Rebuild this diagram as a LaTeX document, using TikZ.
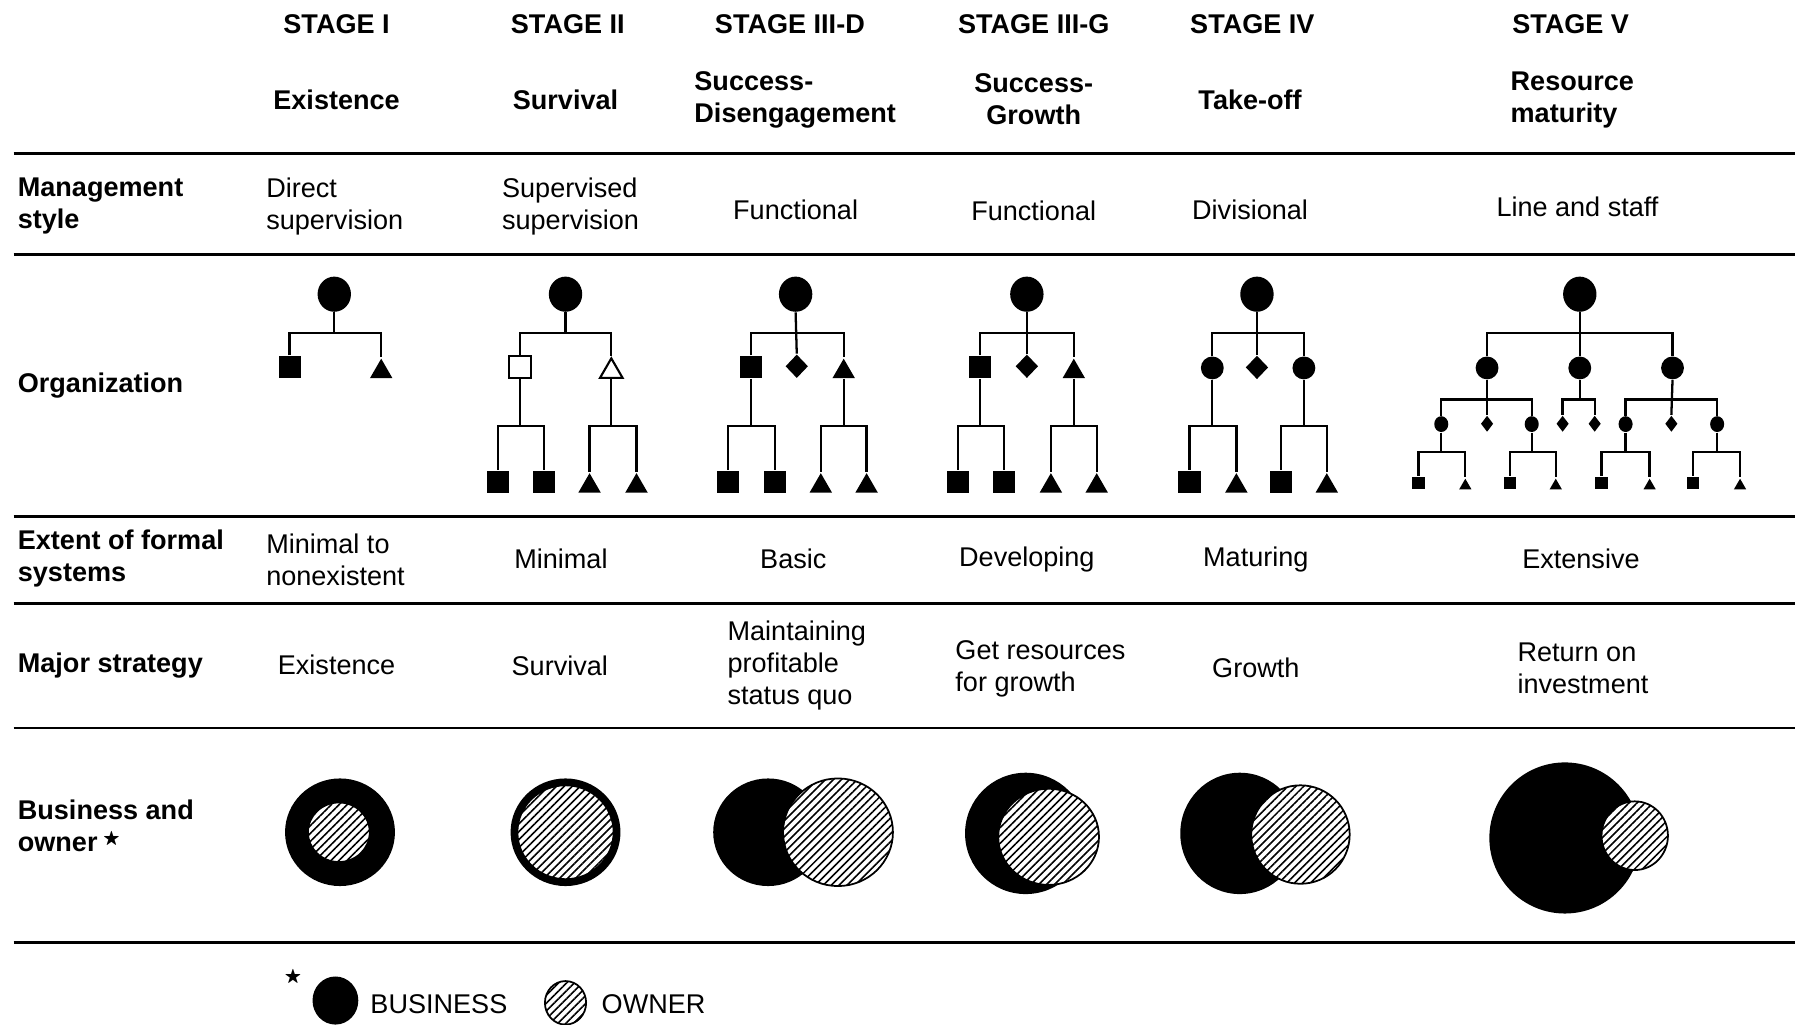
\documentclass[tikz,border=0pt]{standalone}
\usepackage{amssymb}
\usepackage{fontspec}
\setmainfont{Liberation Sans}
\usepackage{tikz}
\usetikzlibrary{shapes.geometric}
\usetikzlibrary{patterns.meta}

\newcommand{\tabfont}{\fontsize{7.7}{9.1}\selectfont}
\newcommand{\footstar}{\raisebox{0.55ex}{\fontsize{5}{5}\selectfont$\bigstar$}}
\newcommand{\orgstem}[2]{\draw[orgline] (#1.south) -- (#1.south |- 0,#2);}
\newcommand{\orgbar}[3]{\draw[orgline] (#1.north) |- (#2.north |- 0,#3) -- (#2.north);}

\tikzset{
	head/.style={font=\tabfont\bfseries, align=center, inner sep=0pt},
	rowlabel/.style={font=\tabfont\bfseries, align=left, anchor=west, inner sep=0pt},
	cell/.style={font=\tabfont, align=center, inner sep=0pt},
	lcell/.style={font=\tabfont, align=left, anchor=west, inner sep=0pt},
	rule/.style={line width=0.8pt},
	orgline/.style={line width=0.65pt},
	boss/.style={ellipse, fill, inner sep=0pt, minimum width=9.5pt, minimum height=10pt},
	member/.style={inner sep=0pt, anchor=south},
	osq/.style={member, rectangle, fill, minimum size=6.3pt},
	otri/.style={member, regular polygon, regular polygon sides=3, fill, minimum size=7.4pt},
	odia/.style={member, diamond, fill, minimum width=6.5pt, minimum height=6.8pt},
	odot/.style={member, circle, fill, minimum size=6.5pt},
	ssq/.style={member, rectangle, fill, minimum size=3.6pt},
	stri/.style={member, regular polygon, regular polygon sides=3, fill, minimum size=4pt},
	sdia/.style={member, diamond, fill, minimum width=3.6pt, minimum height=4.7pt},
	sdot/.style={member, ellipse, fill, minimum width=4pt, minimum height=4.5pt},
	hollow/.style={fill=white, draw, line width=0.6pt},
	business/.style={fill=black},
	owner/.style={draw, line width=0.5pt, preaction={fill=white},
		pattern={Lines[angle=45,distance=1.6pt,line width=0.45pt]}},
}

\begin{document}
\begin{tikzpicture}[x=0.11448mm, y=-0.11448mm]
		\useasboundingbox (0,0) rectangle (1568,895);
		\foreach \y in {134,222,451,527,636,823}
		{
			\draw[rule] (12,\y) -- (1568,\y);
		}

		\node[head] (t1) at (294,21) {STAGE I};
		\node[head] (t2) at (496,21) {STAGE II};
		\node[head] (t3) at (690,21) {STAGE III-D};
		\node[head] (t4) at (903,21) {STAGE III-G};
		\node[head] (t5) at (1094,21) {STAGE IV};
		\node[head] (t6) at (1372,21) {STAGE V};

		\node[head] (n1) at (294,87) {Existence};
		\node[head] (n2) at (494,87) {Survival};
		\node[head, align=left, anchor=west] (n3) at (606,87) {Success-\\Disengagement};
		\node[head] (n4) at (903,87) {Success-\\Growth};
		\node[head] (n5) at (1092,87) {Take-off};
		\node[head, align=left, anchor=west] (n6) at (1319,87) {Resource\\maturity};

		\node[rowlabel] (l1) at (15,180) {Management\\style};
		\node[lcell] (m1) at (232,180) {Direct\\supervision};
		\node[lcell] (m2) at (438,180) {Supervised\\supervision};
		\node[cell] (m3) at (695,183) {Functional};
		\node[cell] (m4) at (903,184) {Functional};
		\node[cell] (m5) at (1092,183) {Divisional};
		\node[cell] (m6) at (1378,181) {Line and staff};

		\node[rowlabel] (l2) at (15,337) {Organization};

		% stage I
		\node[boss] (s1) at (292,257) {};
		\node[osq] (s1a) at (253,331) {};
		\node[otri] (s1b) at (333,331) {};
		\orgstem{s1}{291}
		\orgbar{s1a}{s1b}{291}

		% stage II
		\node[boss] (s2) at (494,257) {};
		\node[osq, hollow] (s2a) at (454,331) {};
		\node[otri, hollow] (s2b) at (534,331) {};
		\node[osq] (s2c) at (435,431) {};
		\node[osq] (s2d) at (475,431) {};
		\node[otri] (s2e) at (515,431) {};
		\node[otri] (s2f) at (556,431) {};
		\orgstem{s2}{291}
		\orgbar{s2a}{s2b}{291}
		\orgstem{s2a}{372}
		\orgbar{s2c}{s2d}{372}
		\orgstem{s2b}{372}
		\orgbar{s2e}{s2f}{372}

		% stage III-D
		\node[boss] (s3) at (695,257) {};
		\node[osq] (s3a) at (656,331) {};
		\node[odia] (s3m) at (696,331) {};
		\node[otri] (s3b) at (737,331) {};
		\node[osq] (s3c) at (636,431) {};
		\node[osq] (s3d) at (677,431) {};
		\node[otri] (s3e) at (717,431) {};
		\node[otri] (s3f) at (757,431) {};
		\draw[orgline] (s3.south) -- (s3m.north);
		\orgbar{s3a}{s3b}{291}
		\orgstem{s3a}{372}
		\orgbar{s3c}{s3d}{372}
		\orgstem{s3b}{372}
		\orgbar{s3e}{s3f}{372}

		% stage III-G
		\node[boss] (s4) at (897,257) {};
		\node[osq] (s4a) at (856,331) {};
		\node[odia] (s4m) at (897,331) {};
		\node[otri] (s4b) at (938,331) {};
		\node[osq] (s4c) at (837,431) {};
		\node[osq] (s4d) at (877,431) {};
		\node[otri] (s4e) at (918,431) {};
		\node[otri] (s4f) at (958,431) {};
		\draw[orgline] (s4.south) -- (s4m.north);
		\orgbar{s4a}{s4b}{291}
		\orgstem{s4a}{372}
		\orgbar{s4c}{s4d}{372}
		\orgstem{s4b}{372}
		\orgbar{s4e}{s4f}{372}

		% stage IV
		\node[boss] (s5) at (1098,257) {};
		\node[odot] (s5a) at (1059,332) {};
		\node[odia] (s5m) at (1098,332) {};
		\node[odot] (s5b) at (1139,332) {};
		\node[osq] (s5c) at (1039,431) {};
		\node[otri] (s5d) at (1080,431) {};
		\node[osq] (s5e) at (1119,431) {};
		\node[otri] (s5f) at (1159,431) {};
		\draw[orgline] (s5.south) -- (s5m.north);
		\orgbar{s5a}{s5b}{291}
		\orgstem{s5a}{372}
		\orgbar{s5c}{s5d}{372}
		\orgstem{s5b}{372}
		\orgbar{s5e}{s5f}{372}

		% stage V
		\node[boss] (s6) at (1380,257) {};
		\node[odot] (s6a) at (1299,332) {};
		\node[odot] (s6m) at (1380,332) {};
		\node[odot] (s6b) at (1461,332) {};
		\draw[orgline] (s6.south) -- (s6m.north);
		\orgbar{s6a}{s6b}{291}
		\node[sdot] (s6aa) at (1259,378) {};
		\node[sdia] (s6am) at (1299,378) {};
		\node[sdot] (s6ab) at (1338,378) {};
		\node[sdia] (s6ma) at (1365,378) {};
		\node[sdia] (s6mb) at (1393,378) {};
		\node[sdot] (s6ba) at (1420,378) {};
		\node[sdia] (s6bm) at (1460,378) {};
		\node[sdot] (s6bb) at (1500,378) {};
		\draw[orgline] (s6a.south) -- (s6am.north);
		\orgbar{s6aa}{s6ab}{349}
		\orgstem{s6m}{349}
		\orgbar{s6ma}{s6mb}{349}
		\draw[orgline] (s6b.south) -- (s6bm.north);
		\orgbar{s6ba}{s6bb}{349}
		\foreach \p/\l/\r in {s6aa/1239/1280, s6ab/1319/1359, s6ba/1399/1441, s6bb/1479/1520}
		{
			\node[ssq] (\p l) at (\l,428) {};
			\node[stri] (\p r) at (\r,428) {};
			\orgstem{\p}{395}
			\orgbar{\p l}{\p r}{395}
		}

		\node[rowlabel] (l3) at (15,488) {Extent of formal\\systems};
		\node[lcell] (e1) at (232,489) {Minimal to\\nonexistent};
		\node[cell] (e2) at (490,488) {Minimal};
		\node[cell] (e3) at (693,488) {Basic};
		\node[cell] (e4) at (897,489) {Developing};
		\node[cell] (e5) at (1097,489) {Maturing};
		\node[cell] (e6) at (1381,488) {Extensive};

		\node[rowlabel] (l4) at (15,581) {Major strategy};
		\node[cell] (g1) at (294,581) {Existence};
		\node[cell] (g2) at (489,582) {Survival};
		\node[lcell] (g3) at (635,581) {Maintaining\\profitable\\status quo};
		\node[lcell] (g4) at (834,584) {Get resources\\for growth};
		\node[cell] (g5) at (1097,583) {Growth};
		\node[lcell] (g6) at (1325,584) {Return on\\investment};

		\node[rowlabel] (l5) at (15,721) {Business and\\owner\,\footstar};
		\fill[business] (297,727) ellipse [x radius=48, y radius=47];
		\draw[owner] (296,727) ellipse [x radius=27, y radius=26];
		\fill[business] (494,727) ellipse [x radius=48, y radius=47];
		\draw[owner] (494,727) ellipse [x radius=42, y radius=41];
		\fill[business] (671,727) ellipse [x radius=48, y radius=47];
		\draw[owner] (732,727) ellipse [x radius=48, y radius=47];
		\fill[business] (896,728) ellipse [x radius=53, y radius=53];
		\draw[owner] (916,731) ellipse [x radius=44, y radius=42];
		\fill[business] (1083,728) ellipse [x radius=52, y radius=53];
		\draw[owner] (1136,729) ellipse [x radius=43, y radius=43];
		\fill[business] (1367,732) ellipse [x radius=66, y radius=66];
		\draw[owner] (1428,730) ellipse [x radius=29, y radius=30];

		\node[cell] (star) at (256,854) {\fontsize{5}{5}\selectfont$\bigstar$};
		\fill[business] (293,874) ellipse [x radius=20, y radius=21];
		\node[lcell] (kb) at (323,877) {BUSINESS};
		\draw[owner] (494,876) ellipse [x radius=18, y radius=19];
		\node[lcell] (ko) at (525,877) {OWNER};
\end{tikzpicture}
\end{document}
